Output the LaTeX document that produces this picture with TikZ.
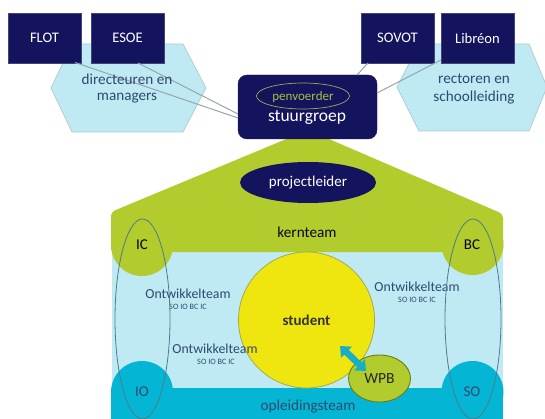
\documentclass[tikz,border=0pt]{standalone}
\usepackage{fontspec}
\setmainfont{Carlito}
\usetikzlibrary{arrows.meta,shapes.geometric}
\definecolor{navy}{HTML}{14145E}
\definecolor{lime}{HTML}{B2CB2D}
\definecolor{pale}{HTML}{C0EAF3}
\definecolor{teal}{HTML}{04B6D4}
\definecolor{sun}{HTML}{F0E60F}
\definecolor{inkblue}{HTML}{2E4A6E}
\definecolor{wire}{HTML}{98A4AC}
\definecolor{ringline}{HTML}{4A7C8C}
\tikzset{
  orgbox/.style={draw=navy!80!white,fill=navy,text=white,minimum width=73pt,minimum height=50pt,inner sep=0pt,font=\fontsize{14.6}{14.6}\selectfont},
  hexa/.style={draw=pale!70!gray,fill=pale,line width=.7pt},
  wirelink/.style={draw=wire,line width=1pt},
  lab/.style={inner sep=0pt,font=\fontsize{15.2}{15.2}\selectfont,text=inkblue},
  teamlab/.style={inner sep=0pt,font=\fontsize{13.8}{13.8}\selectfont,text=inkblue},
  teamsub/.style={inner sep=0pt,font=\fontsize{8.2}{8.2}\selectfont,text=inkblue},
  corner/.style={inner sep=0pt,font=\fontsize{15}{15}\selectfont,text=black!80!navy},
  ring/.style={draw=ringline,line width=.8pt},
}
\begin{document}
\begin{tikzpicture}[x=1pt,y=-1pt]
\useasboundingbox (0,0) rectangle (545,419);
% hexagons
\draw[hexa] (51,88) -- (72,44) -- (183,44) -- (206,88) -- (183,132) -- (72,132) -- cycle;
\draw[hexa] (397,87) -- (419,44) -- (529,44) -- (547,87) -- (529,131) -- (419,131) -- cycle;
% house
\fill[pale] (112,250) rectangle (503,390);
\fill[lime,rounded corners=4pt] (111,252) -- (111,212) -- (308,130) -- (503,214) -- (503,252) -- cycle;
\fill[lime] (142,245) circle[radius=31];
\fill[lime] (472.5,244) circle[radius=31];
\fill[teal] (111,388) rectangle (503,419);
\begin{scope}
\clip (0,0) rectangle (545,419);
\fill[teal] (142,392) circle[radius=31];
\fill[teal] (472.5,392) circle[radius=31];
\end{scope}
% organisations
\node[orgbox] (flot) at (44.5,38) {FLOT};
\node[orgbox] (esoe) at (127.5,38) {ESOE};
\node[orgbox] (sovot) at (397.5,38) {SOVOT};
\node[orgbox] (libreon) at (477.5,38) {Libréon};
\node[fill=navy,draw=navy,rounded corners=9pt,minimum width=139pt,minimum height=64pt,inner sep=0pt] (stuur) at (307.5,107) {};
\coordinate (sFlot) at (238,118);
\coordinate (sEsoe) at (238,114);
\coordinate (sSovot) at (357,75);
\coordinate (sLib) at (377,93);
\coordinate (fFlot) at (75,62.5);
\coordinate (fEsoe) at (138,63);
\coordinate (fSovot) at (368,63);
\coordinate (fLib) at (441,60);
\draw[wirelink] (fFlot) -- (sFlot);
\draw[wirelink] (fEsoe) -- (sEsoe);
\draw[wirelink] (fSovot) -- (sSovot);
\draw[wirelink] (fLib) -- (sLib);
\node[lab] (dir1) at (127,79) {directeuren en};
\node[lab] (dir2) at (127,98) {managers};
\node[lab] (rec1) at (474,79) {rectoren en};
\node[lab] (rec2) at (474,98) {schoolleiding};
\node[draw=lime!55!gray,ellipse,line width=.7pt,minimum width=93pt,minimum height=26pt,inner sep=0pt] (penv) at (303,96) {};
\node[inner sep=0pt,text=lime!85!gray,font=\fontsize{13}{13}\selectfont] (penvt) at (303,97) {penvoerder};
\node[inner sep=0pt,text=white,font=\fontsize{17.5}{17.5}\selectfont] (stuurt) at (307,117) {stuurgroep};
\node[ellipse,fill=navy,minimum width=136pt,minimum height=41pt,inner sep=0pt,text=white,font=\fontsize{15}{15}\selectfont] (proj) at (308,182.5) {projectleider};
% student
\node[circle,fill=sun,draw=lime!60!gray,line width=.8pt,minimum size=136pt,inner sep=0pt,font=\bfseries\fontsize{15}{15}\selectfont,text=black!80] (student) at (306.5,320) {student};
\node[ellipse,fill=lime,draw=lime!60!black,line width=.9pt,minimum width=62pt,minimum height=47pt,inner sep=0pt,font=\fontsize{15.5}{15.5}\selectfont,text=black!85] (wpb) at (379.5,378.5) {WPB};
\coordinate (arrA) at (340,346);
\coordinate (arrB) at (366,371);
\draw[line width=6.5pt,draw=teal!85!gray,{Triangle[width=15pt,length=9pt]}-{Triangle[width=15pt,length=9pt]}] (arrA) -- (arrB);
% labels
\node[lab,text=black!70!navy] (kern) at (307,232) {kernteam};
\node[lab] (opl) at (308,407) {opleidingsteam};
\node[teamlab] (ot1) at (188,294) {Ontwikkelteam};
\node[teamsub] (os1) at (188,307) {SO IO BC IC};
\node[teamlab] (ot2) at (215,349) {Ontwikkelteam};
\node[teamsub] (os2) at (216,362) {SO IO BC IC};
\node[teamlab] (ot3) at (417,287) {Ontwikkelteam};
\node[teamsub] (os3) at (417,300) {SO IO BC IC};
\node[corner] (ic) at (142,245) {IC};
\node[corner] (bc) at (472,245) {BC};
\node[corner,text=inkblue] (io) at (142,392) {IO};
\node[corner,text=inkblue] (so) at (472,392) {SO};
\draw[ring] (142.5,319) ellipse[x radius=27.5,y radius=100];
\draw[ring] (473,319) ellipse[x radius=28,y radius=100];
\end{tikzpicture}
\end{document}
